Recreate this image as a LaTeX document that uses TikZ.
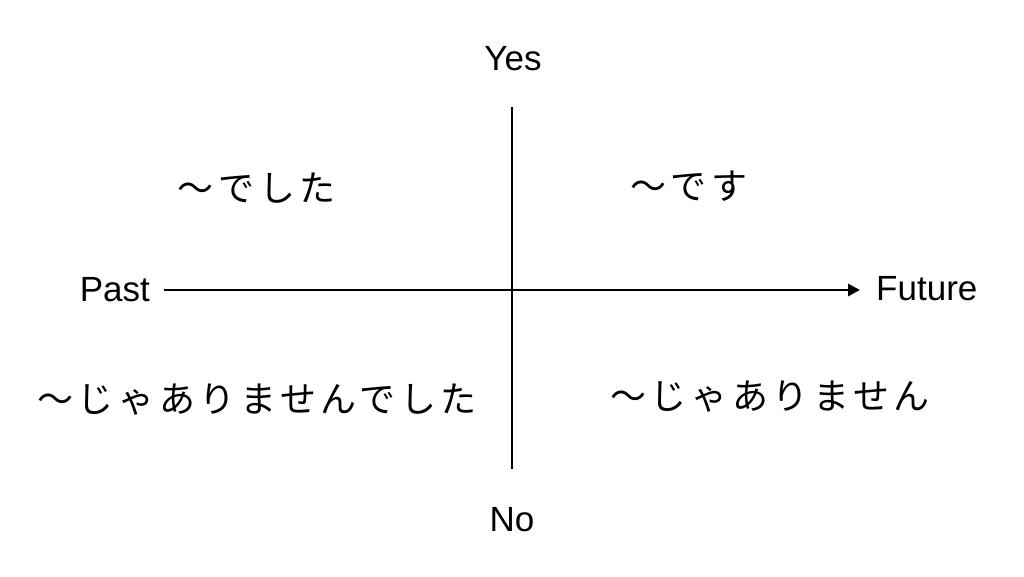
\documentclass[tikz,border=0pt]{standalone}
\usepackage{fontspec}
\setmainfont{Liberation Sans}
\newfontfamily\jpfont[LetterSpace=13]{Noto Sans CJK JP}
\usetikzlibrary{arrows.meta, positioning}

\begin{document}
\begin{tikzpicture}[
    x=1pt, y=-1pt,
    axislabel/.style={
        inner sep=0pt,
        font=\fontsize{35}{40}\selectfont
    },
    phrase/.style={
        inner sep=0pt,
        font=\jpfont\fontsize{36}{40}\selectfont
    },
    axis/.style={
        line width=2.8pt,
        #1
    }
]

% Canvas
\useasboundingbox (0,0) rectangle (1024,576);

% Axis labels
\node[axislabel, anchor=base] (yes) at (513,70) {Yes};
\node[axislabel, anchor=base] (no) at (512,531) {No};
\node[axislabel, anchor=base east] (past) at (150,301) {Past};
\node[axislabel, anchor=base west] (future) at (876,300) {Future};

% Axis ends
\coordinate (top) at (512,107);
\coordinate (bottom) at (512,469);
\coordinate (left) at (164,290);
\coordinate (right) at (860,290);

% Draw axes
\draw[axis] (top) -- (bottom);
\draw[axis={-{Triangle[length=12pt,width=12pt]}}] (left) -- (right);

% Quadrant phrases
\node[phrase] (pastyes) at (257,188) {〜でした};
\node[phrase] (futureyes) at (689,186) {〜です};
\node[phrase] (pastno) at (257,400) {〜じゃありませんでした};
\node[phrase] (futureno) at (770,397) {〜じゃありません};

\end{tikzpicture}
\end{document}
